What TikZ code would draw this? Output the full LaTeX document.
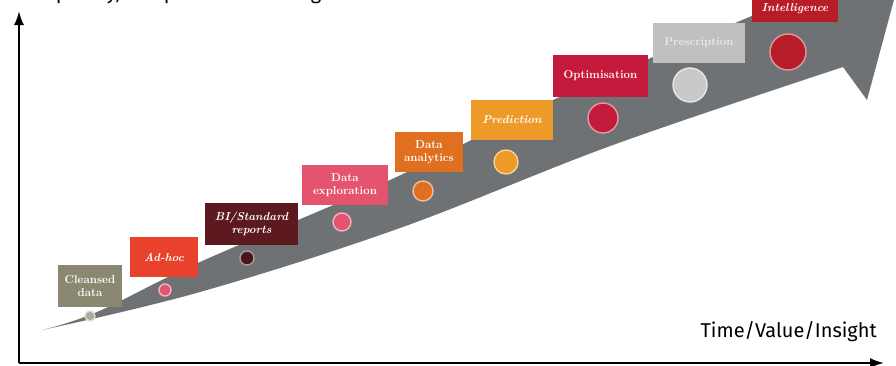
\documentclass[tikz,border=0pt]{standalone}
\usepackage{fontspec}
\usepackage{tikz}
\usetikzlibrary{arrows.meta, positioning}
\newfontfamily\axisfont{Fira Sans}
\definecolor{myband}{RGB}{111,114,117}
\definecolor{myolive}{RGB}{138,136,112}
\definecolor{myred}{RGB}{232,66,44}
\definecolor{mymaroon}{RGB}{92,26,32}
\definecolor{mypink}{RGB}{228,84,110}
\definecolor{myorange}{RGB}{224,112,32}
\definecolor{myamber}{RGB}{238,154,40}
\definecolor{mycrimson}{RGB}{196,26,60}
\definecolor{mysilver}{RGB}{192,192,192}
\definecolor{mydeepred}{RGB}{184,28,38}
\tikzset{
  stage/.style={rectangle, fill=#1, text=white, align=center, inner sep=1pt,
    font=\fontsize{11.5}{13}\selectfont\bfseries},
  dot/.style={circle, fill=#1, draw=#1!45!white, line width=1.4pt, inner sep=0pt},
  axis/.style={-{Latex[length=14pt,width=10pt]}, line width=2pt, black},
  axislabel/.style={font=\axisfont\fontsize{20}{24}\selectfont}
}

\begin{document}
\begin{tikzpicture}[x=1pt, y=-1pt]
  \useasboundingbox (0,0) rectangle (896,365);
  % Rising arrow
  \fill[myband] plot[smooth, tension=0.6] coordinates
      {(42,330) (200,292) (400,228) (613,145) (843,67)}
    -- (867,100) -- (902,-30) -- (780,-50)
    -- plot[smooth, tension=0.6] coordinates
      {(800,-5) (747,18) (553,100) (390,180) (200,262) (97,312) (42,330)}
    -- cycle;
  % Stages
  \node[stage=myolive, minimum width=64, minimum height=42] (cleansed) at (90,286) {Cleansed\\data};
  \node[stage=myred, minimum width=68, minimum height=40] (adhoc) at (164,257) {\itshape Ad-hoc};
  \node[stage=mymaroon, minimum width=93, minimum height=42] (bi) at (251.5,224) {\itshape BI/Standard\\\itshape reports};
  \node[stage=mypink, minimum width=86, minimum height=40] (explore) at (345,185) {Data\\exploration};
  \node[stage=myorange, minimum width=68, minimum height=40] (analytics) at (429,152) {Data\\analytics};
  \node[stage=myamber, minimum width=82, minimum height=40] (predict) at (512,120) {\itshape Prediction};
  \node[stage=mycrimson, minimum width=95, minimum height=42] (optim) at (600.5,76) {Optimisation};
  \node[stage=mysilver, minimum width=92, minimum height=40, text=white!92!black] (prescr) at (699,43) {Prescription};
  \node[stage=mydeepred, minimum width=86, minimum height=40] (intel) at (795,2) {\itshape Artificial\\\itshape Intelligence};
  % Markers on the arrow
  \node[dot=myolive!70!white, minimum size=10] (d1) at (90,316) {};
  \node[dot=mypink, minimum size=12] (d2) at (165,290) {};
  \node[dot=mymaroon!80!black, minimum size=14] (d3) at (247,258) {};
  \node[dot=mypink, minimum size=18] (d4) at (342,222) {};
  \node[dot=myorange, minimum size=20] (d5) at (423,191) {};
  \node[dot=myamber, minimum size=24] (d6) at (506,162) {};
  \node[dot=mycrimson, minimum size=30] (d7) at (603,118) {};
  \node[dot=mysilver!85!white, minimum size=34] (d8) at (690,85) {};
  \node[dot=mydeepred, minimum size=36] (d9) at (788,52) {};
  % Axes
  \coordinate (origin) at (19,363);
  \coordinate (ytip) at (19,11);
  \coordinate (xtip) at (884,363);
  \draw[axis] (origin) -- (ytip);
  \draw[axis] (origin) -- (xtip);
  \node[axislabel, anchor=base west, inner sep=0pt] (ylabel) at (16,-1) {Complexity, competitive advantage};
  \node[axislabel, anchor=base east, inner sep=0pt] (xlabel) at (877,337) {Time/Value/Insight};
\end{tikzpicture}
\end{document}
